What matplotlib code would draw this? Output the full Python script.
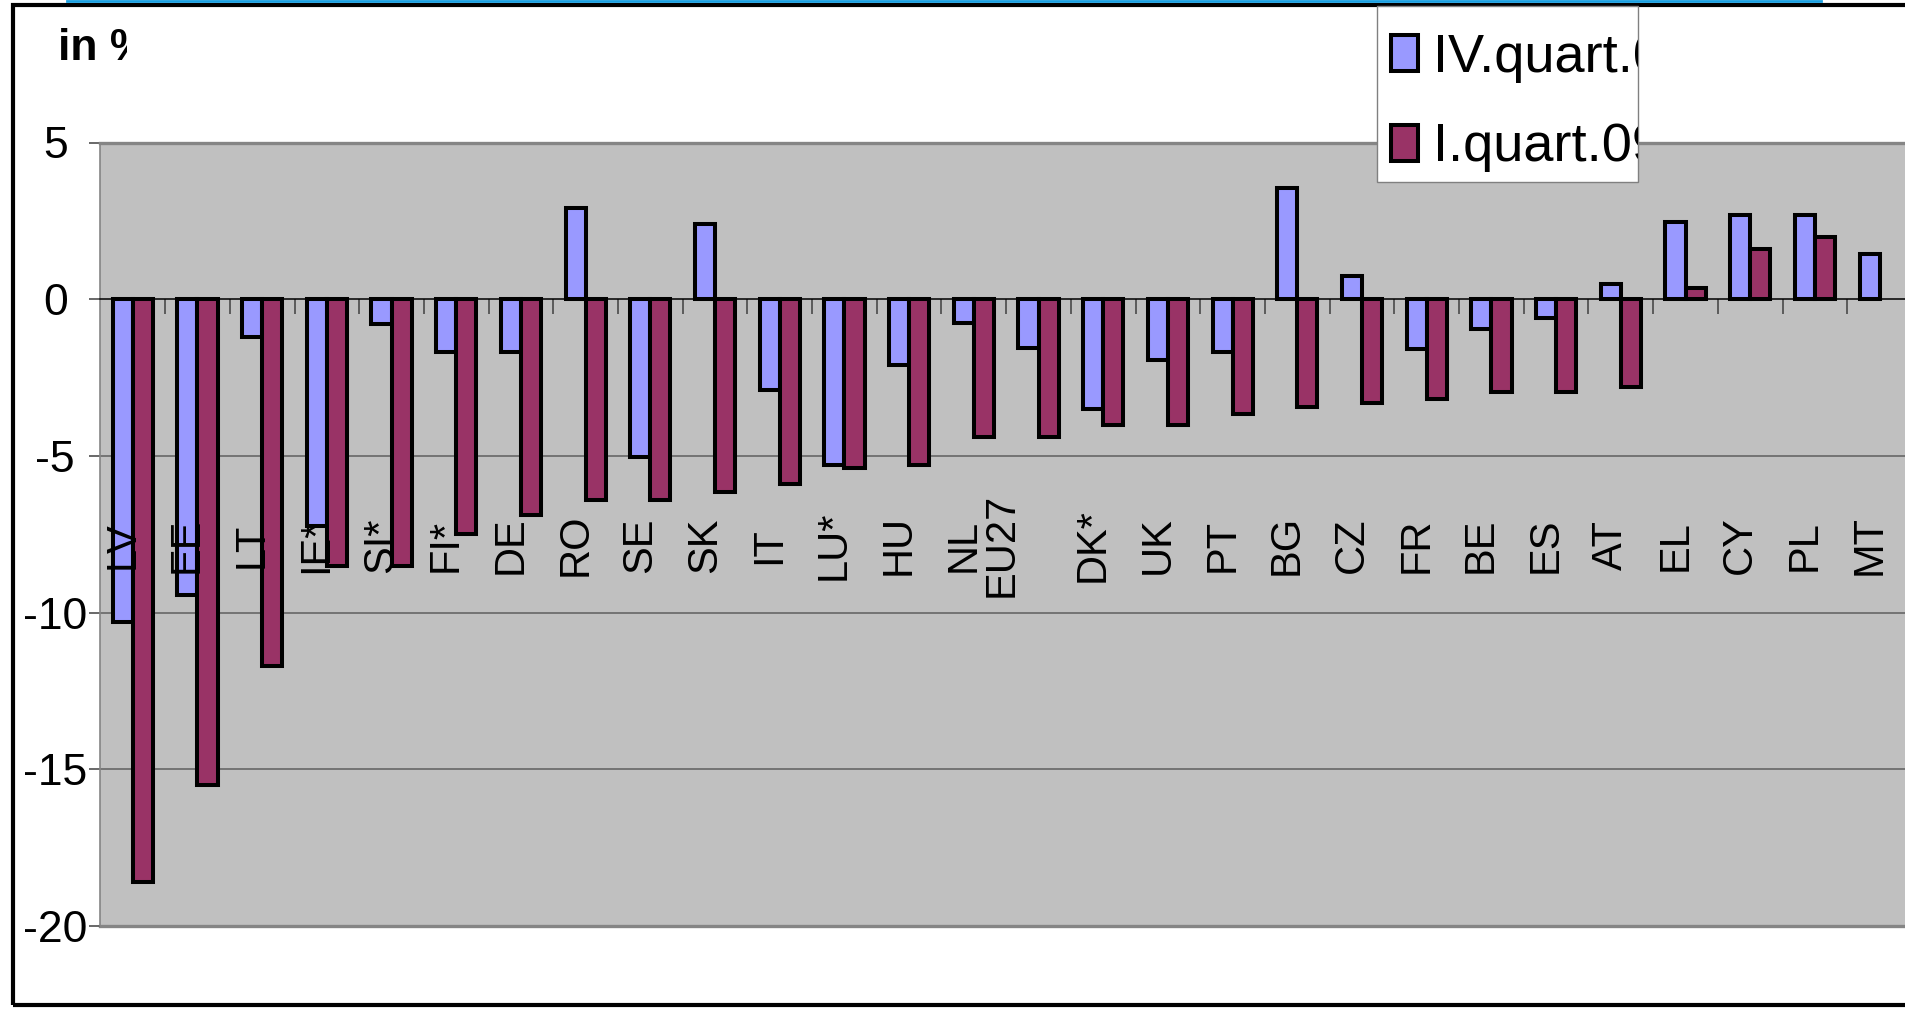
import numpy as np
import matplotlib.pyplot as plt
from matplotlib.patches import Rectangle
from matplotlib.lines import Line2D
from matplotlib.transforms import Bbox, TransformedBbox

# data (change in %)
categories = ['LV', 'EE', 'LT', 'IE*', 'SI*', 'FI*', 'DE', 'RO', 'SE', 'SK',
              'IT', 'LU*', 'HU', 'NL', 'EU27', 'DK*', 'UK', 'PT', 'BG', 'CZ',
              'FR', 'BE', 'ES', 'AT', 'EL', 'CY', 'PL', 'MT']
# the original puts "NL" and "EU27" into one two-line label
tick_labels = ['LV', 'EE', 'LT', 'IE*', 'SI*', 'FI*', 'DE', 'RO', 'SE', 'SK',
               'IT', 'LU*', 'HU', 'NL\nEU27', '', 'DK*', 'UK', 'PT', 'BG', 'CZ',
               'FR', 'BE', 'ES', 'AT', 'EL', 'CY', 'PL', 'MT']
iv_quart_08 = [-10.3, -9.45, -1.2, -7.25, -0.8, -1.7, -1.7, 2.9, -5.05, 2.4,
               -2.9, -5.3, -2.1, -0.75, -1.55, -3.5, -1.95, -1.7, 3.55, 0.75,
               -1.6, -0.95, -0.6, 0.5, 2.45, 2.7, 2.7, 1.45]
i_quart_09 = [-18.6, -15.5, -11.7, -8.5, -8.5, -7.5, -6.9, -6.4, -6.4, -6.15,
              -5.9, -5.4, -5.3, -4.4, -4.4, -4.0, -4.0, -3.65, -3.45, -3.3,
              -3.2, -2.95, -2.95, -2.8, 0.35, 1.6, 2.0, np.nan]
series_names = ['IV.quart.08', 'I.quart.09']
y_ticks = [5, 0, -5, -10, -15, -20]
y_tick_labels = ['5', '0', '-5', '-10', '-15', '-20']

W, H = 1905, 1009
BLUE = '#9999FF'
RED = '#993366'
plt.rcParams['font.family'] = ['Liberation Sans', 'DejaVu Sans']


def fx(px):
    return px / W


def fy(py):
    return 1 - py / H


fig = plt.figure(figsize=(W / 100, H / 100), dpi=100)
fig.patch.set_facecolor('white')

ax = fig.add_axes([fx(100.4), fy(926), fx(1912 - 100.4), (926 - 142.5) / H])
ax.set_facecolor('#C0C0C0')

x = np.arange(len(categories))
bw = 0.31
ax.bar(x - bw / 2, iv_quart_08, bw, color=BLUE, edgecolor='black',
       linewidth=2.9, zorder=3)
ax.bar(x + bw / 2, i_quart_09, bw, color=RED, edgecolor='black',
       linewidth=2.9, zorder=3)

ax.set_xlim(-0.5, len(categories) - 0.5)
ax.set_ylim(-20, 5)

for v in [-5, -10, -15]:
    ax.axhline(v, color='#6E6E6E', lw=1.3, zorder=1)
ax.axhline(-20, color='#858585', lw=2.4, zorder=1, clip_on=False)

ax.spines['bottom'].set_position(('data', 0))
ax.spines['bottom'].set_color('black')
ax.spines['bottom'].set_linewidth(1.1)
ax.spines['top'].set_color('#858585')
ax.spines['top'].set_linewidth(2.4)
ax.spines['left'].set_color('#858585')
ax.spines['left'].set_linewidth(1.2)
ax.spines['right'].set_visible(False)

ax.set_xticks(x[:-1] + 0.5)
ax.tick_params(axis='x', direction='out', length=11, width=1.1,
               color='#404040', labelbottom=False)
ax.set_yticks(y_ticks)
ax.set_yticklabels(y_tick_labels, ha='center')
ax.tick_params(axis='y', direction='out', length=8, width=1.1,
               color='#404040', pad=24.5, labelsize=32)

# category labels sit inside the plot area, rotated
for i, lab in enumerate(tick_labels):
    ax.text(i - 0.47, -7.85, lab, rotation=90, ha='left', va='center',
            multialignment='center', fontsize=30, linespacing=0.95, zorder=4)

# outer frame and the blue line on top
fig.add_artist(Rectangle((fx(13), fy(1005)), fx(2100), (1005 - 5) / H,
                         transform=fig.transFigure, fill=False,
                         edgecolor='black', lw=3))
fig.add_artist(Line2D([fx(67), fx(1821)], [fy(1.2), fy(1.2)],
                      transform=fig.transFigure, color='#1A9FE0', lw=2))

t = fig.text(fx(58), fy(60), 'in %', fontsize=32, fontweight='bold',
             ha='left', va='baseline')
t.set_clip_box(TransformedBbox(Bbox.from_extents(0, 0, fx(127), 1),
                               fig.transFigure))
t.set_clip_on(True)

# legend, its texts cut at the box edge like in the original
lx0, ly0, lx1, ly1 = 1377, 6, 1638, 182
fig.add_artist(Rectangle((fx(lx0), fy(ly1)), fx(lx1 - lx0), (ly1 - ly0) / H,
                         transform=fig.transFigure, facecolor='white',
                         edgecolor='#808080', lw=1, zorder=5))
leg_clip = TransformedBbox(Bbox.from_extents(fx(lx0), fy(ly1), fx(lx1), fy(ly0)),
                           fig.transFigure)
for name, col, top, base in [(series_names[0], BLUE, 34.5, 72),
                             (series_names[1], RED, 124.5, 161)]:
    fig.add_artist(Rectangle((fx(1391), fy(top + 36)), fx(27), 36 / H,
                             transform=fig.transFigure, facecolor=col,
                             edgecolor='black', lw=2.9, zorder=6))
    lt = fig.text(fx(1433), fy(base), name, fontsize=39, ha='left',
                  va='baseline', zorder=6)
    lt.set_clip_box(leg_clip)
    lt.set_clip_on(True)

fig.savefig('out.png', dpi=100)
